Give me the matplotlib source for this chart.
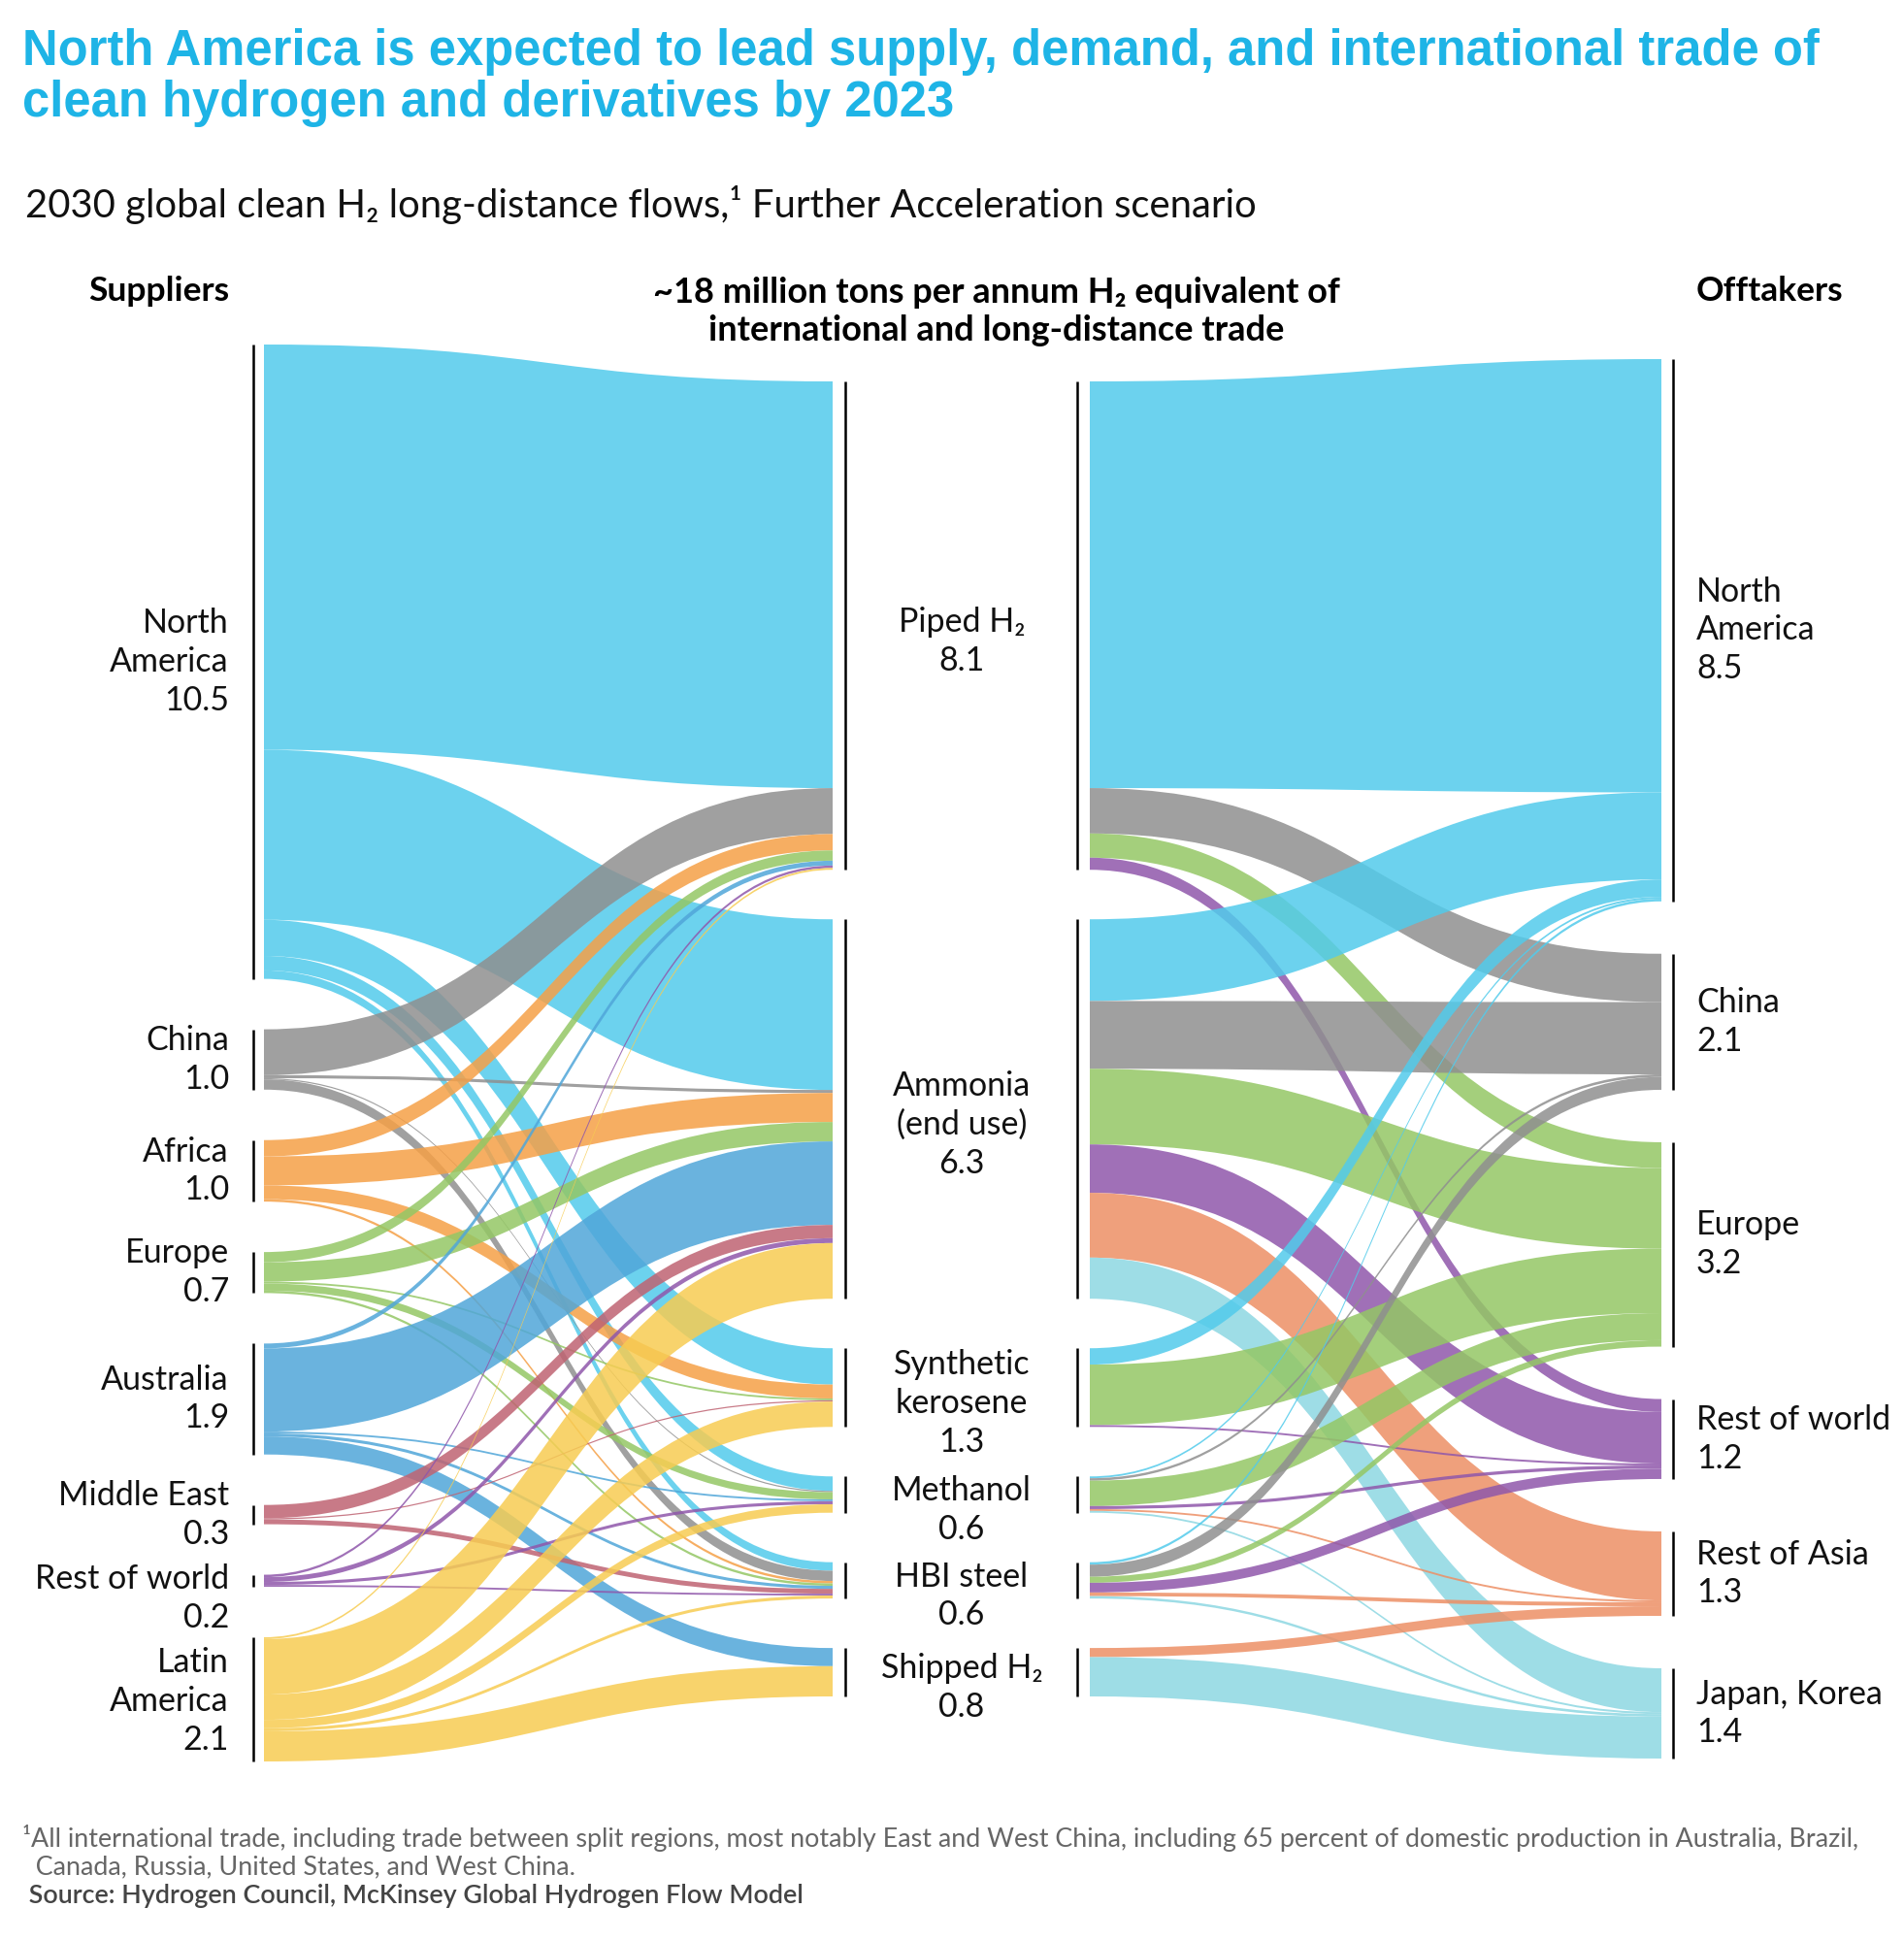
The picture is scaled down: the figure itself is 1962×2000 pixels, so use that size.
import numpy as np
import matplotlib.pyplot as plt
from matplotlib.path import Path
from matplotlib.patches import PathPatch


# Данные: млн т H2-эквивалента, 2030, сценарий Further Acceleration
suppliers = ["North\nAmerica", "China", "Africa", "Europe", "Australia",
             "Middle East", "Rest of world", "Latin\nAmerica"]
supplier_totals = ["10.5", "1.0", "1.0", "0.7", "1.9", "0.3", "0.2", "2.1"]
supplier_colors = ["#52CBEB", "#8F8F8F", "#F5A047", "#94C765", "#50A6D9",
                   "#BF6372", "#8F57AB", "#F7CC52"]

carriers = ["Piped H\u2082", "Ammonia\n(end use)", "Synthetic\nkerosene",
            "Methanol", "HBI steel", "Shipped H\u2082"]
carrier_totals = ["8.1", "6.3", "1.3", "0.6", "0.6", "0.8"]

offtakers = ["North\nAmerica", "China", "Europe", "Rest of world",
             "Rest of Asia", "Japan, Korea"]
offtaker_totals = ["8.5", "2.1", "3.2", "1.2", "1.3", "1.4"]
offtaker_colors = ["#52CBEB", "#8F8F8F", "#94C765", "#8F57AB", "#ED8F65", "#8DD7E2"]

# строки - поставщики, столбцы - носители
supply_flows = np.array([
    [6.72, 2.82, 0.60, 0.24, 0.14, 0.00],   # North America
    [0.76, 0.05, 0.00, 0.02, 0.17, 0.00],   # China
    [0.27, 0.48, 0.23, 0.00, 0.04, 0.00],   # Africa
    [0.17, 0.32, 0.03, 0.12, 0.04, 0.00],   # Europe
    [0.08, 1.38, 0.00, 0.03, 0.05, 0.30],   # Australia
    [0.00, 0.22, 0.02, 0.00, 0.08, 0.00],   # Middle East
    [0.04, 0.08, 0.00, 0.05, 0.03, 0.00],   # Rest of world
    [0.03, 0.92, 0.42, 0.14, 0.05, 0.50],   # Latin America
])

# строки - носители, столбцы - получатели
offtake_flows = np.array([
    [6.72, 0.75, 0.40, 0.20, 0.00, 0.00],   # Piped H2
    [1.35, 1.12, 1.25, 0.80, 1.07, 0.68],   # Ammonia
    [0.27, 0.00, 1.00, 0.03, 0.00, 0.00],   # Synthetic kerosene
    [0.03, 0.04, 0.42, 0.05, 0.03, 0.03],   # Methanol
    [0.04, 0.20, 0.10, 0.16, 0.06, 0.04],   # HBI steel
    [0.00, 0.00, 0.00, 0.00, 0.15, 0.65],   # Shipped H2
])

title = ("North America is expected to lead supply, demand, and international trade of\n"
         "clean hydrogen and derivatives by 2023")
subtitle = "2030 global clean H\u2082 long-distance flows,\u00b9 Further Acceleration scenario"
footnote_lines = [
    "\u00b9All international trade, including trade between split regions, most notably East and West China, "
    "including 65 percent of domestic production in Australia, Brazil,",
    "  Canada, Russia, United States, and West China.",
]
source = " Source: Hydrogen Council, McKinsey Global Hydrogen Flow Model"

plt.rcParams['font.family'] = ['Lato', 'DejaVu Sans']


def stack_nodes(sizes, top, bottom, gap):
    k = (bottom - top - gap * (len(sizes) - 1)) / sizes.sum()
    tops = top + np.concatenate([[0], np.cumsum(sizes[:-1] * k + gap)])
    return tops, k


def band(ax, x0, y0, x1, y1, h0, h1, color):
    xm = (x0 + x1) / 2
    verts = [(x0, y0), (xm, y0), (xm, y1), (x1, y1),
             (x1, y1 + h1), (xm, y1 + h1), (xm, y0 + h0), (x0, y0 + h0), (x0, y0)]
    codes = [Path.MOVETO, Path.CURVE4, Path.CURVE4, Path.CURVE4,
             Path.LINETO, Path.CURVE4, Path.CURVE4, Path.CURVE4, Path.CLOSEPOLY]
    ax.add_patch(PathPatch(Path(verts, codes), facecolor=color, edgecolor='none', alpha=0.85))


def draw_links(ax, flows, src_top, src_k, dst_top, dst_k, x0, x1, colors, by_source):
    n_src, n_dst = flows.shape
    for i in range(n_src):
        for j in range(n_dst):
            v = flows[i, j]
            if v <= 0:
                continue
            y0 = src_top[i] + src_k * flows[i, :j].sum()
            y1 = dst_top[j] + dst_k * flows[:i, j].sum()
            c = colors[i] if by_source else colors[j]
            band(ax, x0, y0, x1, y1, v * src_k, v * dst_k, c)


def label_centers(tops, sizes, k, texts, pitch, shift=0.0):
    # центр подписи = центр узла, но подписи не должны налезать друг на друга
    centers = list(tops + sizes * k / 2 + shift)
    nl = [t.count("\n") + 2 for t in texts]   # имя + строка со значением
    for i in range(1, len(centers)):
        lo = centers[i - 1] + (nl[i - 1] + nl[i]) * pitch / 2 + 4
        centers[i] = max(centers[i], lo)
    return centers


fig = plt.figure(figsize=(19.62, 20), dpi=100)
ax = fig.add_axes([0, 0, 1, 1])
ax.set_xlim(0, 1962)
ax.set_ylim(2000, 0)
ax.axis('off')

left_sizes = supply_flows.sum(axis=1)
mid_sizes = supply_flows.sum(axis=0)
right_sizes = offtake_flows.sum(axis=0)

left_top, left_k = stack_nodes(left_sizes, 355, 1815, 52)
mid_top, mid_k = stack_nodes(mid_sizes, 393, 1748, 51)
right_top, right_k = stack_nodes(right_sizes, 370, 1812, 54)

draw_links(ax, supply_flows, left_top, left_k, mid_top, mid_k, 272, 858, supplier_colors, True)
draw_links(ax, offtake_flows, mid_top, mid_k, right_top, right_k, 1123, 1712, offtaker_colors, False)

# вертикальные черточки узлов
for tops, k, sizes, xs in [(left_top, left_k, left_sizes, [261]),
                           (mid_top, mid_k, mid_sizes, [871, 1110]),
                           (right_top, right_k, right_sizes, [1724])]:
    for t, s in zip(tops, sizes):
        for x in xs:
            ax.plot([x, x], [t, t + s * k], color='black', lw=1.8, solid_capstyle='butt')

pitch = 41
lab_kw = dict(fontsize=24.5, color='#111111', linespacing=1.3)
for name, tot, c in zip(suppliers, supplier_totals,
                        label_centers(left_top, left_sizes, left_k, suppliers, pitch)):
    ax.text(236, c, f"{name}\n{tot}", ha='right', va='center', **lab_kw)
for name, tot, c in zip(carriers, carrier_totals,
                        label_centers(mid_top, mid_sizes, mid_k, carriers, pitch, 16)):
    ax.text(991, c, f"{name}\n{tot}", ha='center', va='center', **lab_kw)
for name, tot, c in zip(offtakers, offtaker_totals,
                        label_centers(right_top, right_sizes, right_k, offtakers, pitch)):
    ax.text(1748, c, f"{name}\n{tot}", ha='left', va='center', **lab_kw)

ax.text(236, 300, "Suppliers", ha='right', va='center', fontsize=25.5, fontweight='bold')
ax.text(1748, 300, "Offtakers", ha='left', va='center', fontsize=25.5, fontweight='bold')
ax.text(1027, 321, "~18 million tons per annum H\u2082 equivalent of\ninternational and long-distance trade",
        ha='center', va='center', fontsize=26, fontweight='bold', linespacing=1.25)

ax.text(23, 80, title, ha='left', va='center', fontsize=36.5, fontweight='bold', color='#1EB4E6',
        family=['Liberation Sans', 'DejaVu Sans'], linespacing=1.1)
ax.text(26, 211, subtitle, ha='left', va='center', fontsize=28.8, color='#111111')

for i, line in enumerate(footnote_lines):
    ax.text(23, 1894 + 30 * i, line, ha='left', va='center', fontsize=19.4, color='#666666')
ax.text(23, 1954, source, ha='left', va='center', fontsize=19.4, color='#444444', fontweight='semibold')

plt.savefig("out.png", dpi=100)
